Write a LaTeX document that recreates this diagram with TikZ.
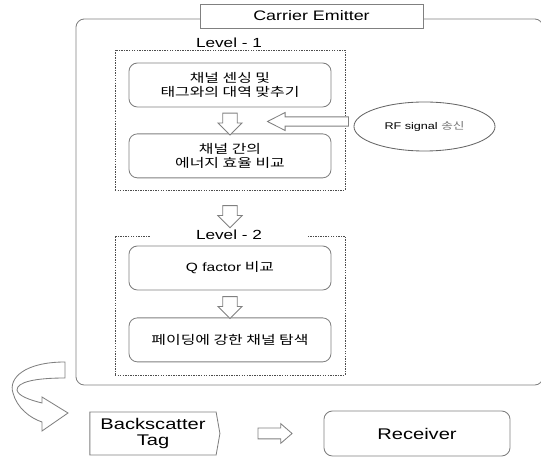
\documentclass[tikz,border=0pt]{standalone}
\usepackage{fontspec}
\setmainfont{Liberation Sans}[FakeStretch=1.3]
\newfontfamily\kr{Noto Sans CJK KR}[FakeStretch=1.3]
\usepackage{tikz}
\usetikzlibrary{positioning, calc, shapes.geometric, shapes.arrows, shapes.symbols}

\begin{document}
\begin{tikzpicture}[
  x=0.025cm, y=-0.025cm,
  frame/.style={draw=black!50, line width=0.6pt},
  stepbox/.style={frame, rectangle, rounded corners=6pt, minimum width=5.05cm, minimum height=1.1cm, align=center, font=\kr\fontsize{8.7}{10}\selectfont},
  levelbox/.style={draw=black!70, line width=0.5pt, dash pattern=on 1pt off 0.8pt, minimum width=5.75cm},
  levelname/.style={fill=white, inner ysep=1pt, minimum width=3.9cm, font=\fontsize{9.4}{11}\selectfont},
  hollow/.style={frame, single arrow, fill=white, inner xsep=0pt},
  downarrow/.style={hollow, rotate=-90, inner ysep=0.1725cm, single arrow head extend=0.12cm, minimum height=0.55cm}
]
  \useasboundingbox (0,0) rectangle (541,458);
  \clip (0,0) rectangle (541,458);

  % Carrier emitter frame
  \node[frame, rounded corners=6pt, minimum width=11.675cm, minimum height=9.15cm] (emitter) at (309.5,202) {};
  \node[frame, fill=white, minimum width=5.575cm, minimum height=0.6cm, font=\fontsize{9.8}{12}\selectfont] (celabel) at (311.5,16) {Carrier Emitter};

  % Level 1
  \node[levelbox, minimum height=3.5cm] (lvl1) at (230,120) {};
  \node[levelname] (lvl1name) at (229,43) {Level - 1};
  \node[stepbox] (sense) at (230,85) {채널 센싱 및\\태그와의 대역 맞추기};
  \node[stepbox, below=0.65cm of sense] (energy) {채널 간의\\에너지 효율 비교};
  \node[downarrow] (a1) at ($(sense.south)!0.5!(energy.north)$) {};

  % RF signal into level 1
  \node[ellipse, frame, draw=black!60, minimum width=3.525cm, minimum height=1.225cm, inner sep=0pt, font=\fontsize{6.9}{8}\selectfont] (rf) at (424.5,126.5) {RF signal {\kr\color{black!55}송신}};
  \node[hollow, rotate=180, inner ysep=0.105cm, single arrow head extend=0.11cm, single arrow tip angle=54, minimum height=2.025cm] (a2) at (312.5,121.5) {};

  % Level 2
  \node[levelbox, minimum height=3.475cm] (lvl2) at (230,305.5) {};
  \node[levelname] (lvl2name) at (229,235) {Level - 2};
  \node[downarrow] (a3) at ($(lvl1.south)!0.5!(lvl2.north)$) {};
  \node[stepbox] (qfac) at (230,268) {{\rmfamily\fontsize{8.5}{10}\selectfont Q factor} 비교};
  \node[stepbox, below=0.675cm of qfac] (fading) {페이딩에 강한 채널 탐색};
  \node[downarrow] (a4) at ($(qfac.south)!0.5!(fading.north)$) {};

  % bent arrow down to the tag
  \draw[frame, fill=white] (65,362) .. controls (25,362) and (8,378) .. (13,393)
    .. controls (17,408) and (30,418) .. (42,422) -- (42,431) -- (68,413) -- (42,397) -- (42,403)
    .. controls (30,400) and (18,396) .. (17,390) .. controls (17,382) and (35,378) .. (65,378) -- cycle;

  % Tag and receiver
  \node[frame, signal, signal to=east, signal pointer angle=160, minimum width=3.25cm, minimum height=1.075cm, align=center, font=\fontsize{11}{11.5}\selectfont] (tag) at (153,433.5) {Backscatter\\Tag};
  \node[frame, rounded corners=6pt, minimum width=4.65cm, minimum height=1.125cm, font=\fontsize{11}{13}\selectfont] (rx) at (417,433.5) {Receiver};
  \node[hollow, inner ysep=0.125cm, single arrow head extend=0.11cm, single arrow tip angle=82, minimum height=0.85cm] (a5) at ($(tag.east)!0.5!(rx.west)$) {};
\end{tikzpicture}
\end{document}
